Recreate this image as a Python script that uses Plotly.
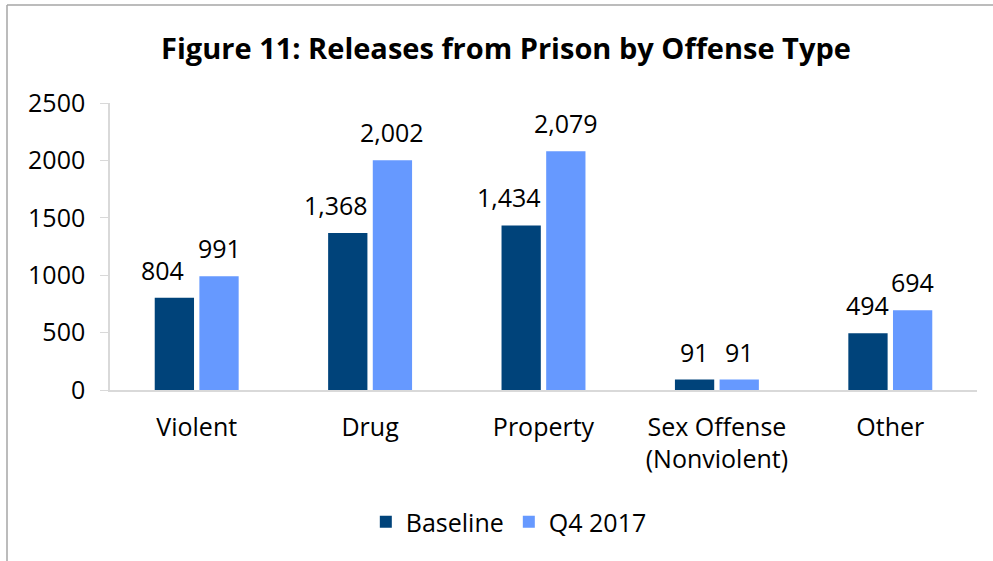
import plotly.graph_objects as go

categories = ["Violent", "Drug", "Property", "Sex Offense<br>(Nonviolent)", "Other"]
baseline = [804, 1368, 1434, 91, 494]
q4_2017 = [991, 2002, 2079, 91, 694]
y_ticks = [0, 500, 1000, 1500, 2000, 2500]

W, H = 993, 561
ML, MR, MT, MB = 110, 16, 103, 171
FONT = "Open Sans, Lato, sans-serif"
FS = 25
BARGAP = 0.485
# small horizontal nudges (px) of the data labels, as placed in the original
baseline_label_nudge = [-12, -12, -12, 0, 0]

fig = go.Figure()
series = [("Baseline", baseline, "#00437A"), ("Q4 2017", q4_2017, "#6699FF")]
for name, vals, col in series:
    fig.add_trace(go.Bar(
        name=name, x=categories, y=vals,
        marker=dict(color=col, line=dict(width=0)),
        hoverinfo="skip",
    ))

# data labels above each bar, placed in data coordinates
slot = (1 - BARGAP) / 2
annotations = []
for si, (name, vals, col) in enumerate(series):
    offset = (si - 0.5) * slot
    for ci, v in enumerate(vals):
        nudge = baseline_label_nudge[ci] if si == 0 else 0
        annotations.append(dict(
            x=ci + offset, y=v, xref="x", yref="y", text=f"{v:,}", showarrow=False,
            yanchor="middle", xanchor="center", yshift=28, xshift=nudge,
            font=dict(size=FS, color="#000000", family=FONT),
        ))

pw = W - ML - MR
ph = H - MT - MB
x_left = (7 - ML) / pw
y_top = 1 + (MT - 5) / ph
y_bot = -(MB + 10) / ph
x_right = 1 + (MR + 10) / pw

fig.update_layout(
    width=W, height=H,
    margin=dict(l=ML, r=MR, t=MT, b=MB, autoexpand=False),
    paper_bgcolor="white", plot_bgcolor="white",
    font=dict(family=FONT, size=FS, color="#000000"),
    title=dict(text="<b>Figure 11: Releases from Prison by Offense Type</b>",
               x=506 / W, xanchor="center", y=1 - 49 / H, yanchor="middle",
               font=dict(size=29, family=FONT, color="#000000")),
    barmode="group", bargap=BARGAP, bargroupgap=0.12,
    showlegend=True,
    legend=dict(orientation="h", x=0.46, xanchor="center", y=-(522 - 390) / ph, yanchor="middle",
                font=dict(size=FS), traceorder="normal"),
    xaxis=dict(showline=True, linecolor="#D9D9D9", linewidth=1.5, ticks="",
               tickfont=dict(size=FS), showgrid=False, ticklabelstandoff=14),
    yaxis=dict(range=[0, 2500], tickvals=y_ticks, showline=True, linecolor="#D9D9D9", linewidth=1.5,
               ticks="outside", ticklen=8, tickcolor="#D9D9D9", showgrid=False, zeroline=False,
               tickfont=dict(size=FS), ticklabelstandoff=10),
    annotations=annotations,
    shapes=[
        dict(type="line", xref="paper", yref="paper", x0=x_left, x1=x_left, y0=y_bot, y1=y_top,
             line=dict(color="#A6A6A6", width=1.5)),
        dict(type="line", xref="paper", yref="paper", x0=x_left, x1=x_right, y0=y_top, y1=y_top,
             line=dict(color="#A6A6A6", width=1.5)),
    ],
)

fig.write_html("out.html", config={"displayModeBar": False},
               post_script="document.body.style.margin='0';document.body.style.overflow='hidden';")
